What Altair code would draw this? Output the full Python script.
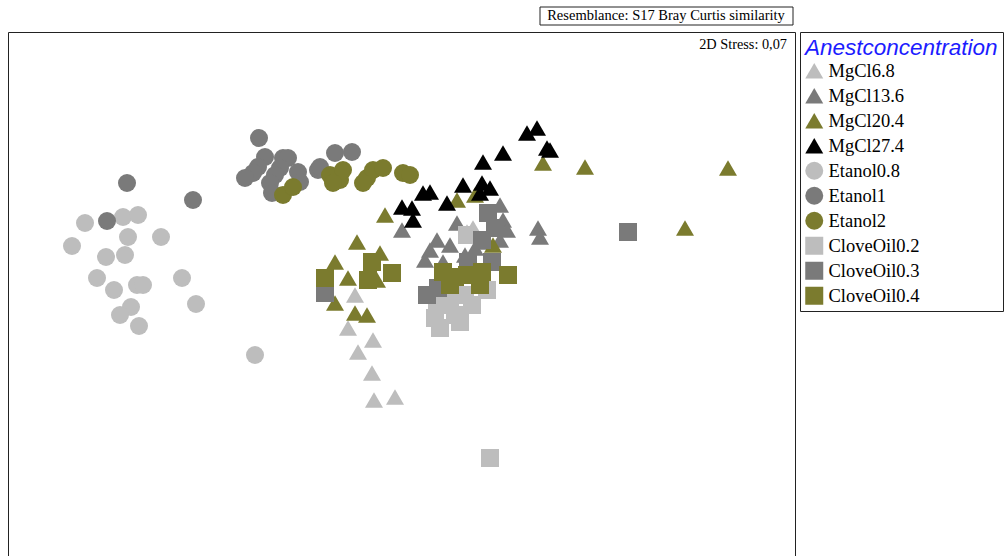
import altair as alt
import pandas as pd

# NMDS ordination (arbitrary ordination units; axis 2 grows downward)
groups = ["MgCl6.8", "MgCl13.6", "MgCl20.4", "MgCl27.4", "Etanol0.8", "Etanol1",
          "Etanol2", "CloveOil0.2", "CloveOil0.3", "CloveOil0.4"]

mgcl68_x = [355, 348, 373, 358, 372, 374, 395, 467, 473]
mgcl68_y = [295, 328, 340, 352, 373, 400, 397, 232, 228]

mgcl136_x = [402, 437, 430, 425, 450, 457, 475, 487, 500, 503, 507, 500, 538, 540, 443, 465]
mgcl136_y = [230, 240, 250, 260, 245, 223, 248, 242, 205, 220, 230, 240, 228, 237, 262, 255]

mgcl204_x = [543, 585, 728, 685, 457, 475, 493, 357, 380, 335, 348, 377, 335, 355, 367, 385]
mgcl204_y = [163, 167, 168, 228, 200, 195, 245, 242, 253, 262, 278, 280, 303, 313, 315, 215]

mgcl274_x = [527, 537, 547, 550, 503, 483, 463, 482, 490, 480, 423, 430, 447, 412, 413, 402]
mgcl274_y = [133, 128, 148, 150, 153, 162, 185, 183, 188, 193, 193, 192, 203, 208, 220, 207]

etanol08_x = [85, 123, 138, 72, 128, 161, 106, 125, 97, 137, 143, 182, 114, 131, 120, 139, 196, 255]
etanol08_y = [223, 217, 215, 246, 237, 237, 257, 255, 278, 285, 285, 278, 290, 307, 315, 326, 304, 355]

etanol1_x = [127, 107, 193, 259, 265, 258, 253, 245, 283, 288, 280, 275, 298, 300, 270, 272, 318, 335, 352, 320]
etanol1_y = [183, 221, 200, 138, 157, 167, 173, 178, 158, 158, 168, 175, 172, 182, 183, 193, 170, 153, 152, 167]

etanol2_x = [283, 293, 330, 340, 343, 333, 367, 373, 383, 363, 403, 410]
etanol2_y = [195, 187, 175, 180, 170, 183, 178, 170, 168, 183, 173, 175]

clove02_x = [490, 437, 435, 440, 455, 460, 450, 465, 472, 487, 467]
clove02_y = [458, 305, 318, 328, 315, 322, 300, 295, 305, 290, 235]

clove03_x = [628, 325, 427, 438, 488, 495, 482, 468, 492]
clove03_y = [232, 293, 295, 288, 213, 228, 240, 262, 262]

clove04_x = [325, 372, 368, 392, 443, 455, 467, 482, 480, 508, 450]
clove04_y = [278, 262, 280, 273, 272, 277, 275, 272, 285, 275, 285]

series_x = [mgcl68_x, mgcl136_x, mgcl204_x, mgcl274_x, etanol08_x, etanol1_x,
            etanol2_x, clove02_x, clove03_x, clove04_x]
series_y = [mgcl68_y, mgcl136_y, mgcl204_y, mgcl274_y, etanol08_y, etanol1_y,
            etanol2_y, clove02_y, clove03_y, clove04_y]

colors = ["#bdbdbd", "#7a7a7a", "#7b7b2e", "#000000", "#bdbdbd", "#7a7a7a",
          "#7b7b2e", "#bdbdbd", "#7a7a7a", "#7b7b2e"]
shapes = ["triangle-up"] * 4 + ["circle"] * 3 + ["square"] * 3
sizes = [324] * 4 + [240] * 3 + [225] * 3

title_text = "Resemblance: S17 Bray Curtis similarity"
stress_text = "2D Stress: 0,07"

rows = []
for g, xs, ys in zip(groups, series_x, series_y):
    for a, b in zip(xs, ys):
        rows.append({"Anestconcentration": g, "NMDS1": a, "NMDS2": b})
df = pd.DataFrame(rows)

xscale = alt.Scale(domain=[8, 795], nice=False, zero=False)
yscale = alt.Scale(domain=[32, 556], nice=False, zero=False, reverse=True)

points = alt.Chart(df).mark_point(filled=True, opacity=1).encode(
    x=alt.X("NMDS1:Q", scale=xscale, axis=None),
    y=alt.Y("NMDS2:Q", scale=yscale, axis=None),
    color=alt.Color("Anestconcentration:N",
                    scale=alt.Scale(domain=groups, range=colors),
                    legend=alt.Legend(orient="none", legendX=792, legendY=0)),
    shape=alt.Shape("Anestconcentration:N", scale=alt.Scale(domain=groups, range=shapes)),
    size=alt.Size("Anestconcentration:N", scale=alt.Scale(domain=groups, range=sizes), legend=None),
)

lab = pd.DataFrame({"title": [title_text], "stress": [stress_text]})

box = alt.Chart(lab).mark_rect(fill="white", stroke="#222", strokeWidth=1).encode(
    x=alt.value(532), x2=alt.value(785), y=alt.value(-25), y2=alt.value(-7)
)
box_text = alt.Chart(lab).mark_text(font="Liberation Serif", fontSize=14.5, color="black",
                                    align="center", baseline="middle").encode(
    x=alt.value(658), y=alt.value(-16), text="title:N"
)
stress = alt.Chart(lab).mark_text(font="Liberation Serif", fontSize=14.3, color="black",
                                  align="right", baseline="middle").encode(
    x=alt.value(779), y=alt.value(13), text="stress:N"
)

chart = alt.layer(points, box, box_text, stress).properties(
    width=787, height=524,
    autosize=alt.AutoSizeParams(type="none"),
    padding={"left": 8, "top": 32, "right": 211, "bottom": 0},
    background="white",
).configure_view(
    stroke="#222", strokeWidth=1
).configure_legend(
    strokeColor="#222", fillColor="white", padding=5,
    titleFont="Liberation Sans", titleFontStyle="italic", titleFontWeight="normal",
    titleFontSize=22.5, titleColor="#1c1cff", titlePadding=2, titleLimit=300,
    labelFont="Liberation Serif", labelFontSize=18.5, labelColor="black", labelLimit=200,
    symbolSize=250, symbolStrokeWidth=0, rowPadding=6, labelOffset=5,
)

chart.save("out.html", embed_options={"renderer": "svg", "actions": False})
